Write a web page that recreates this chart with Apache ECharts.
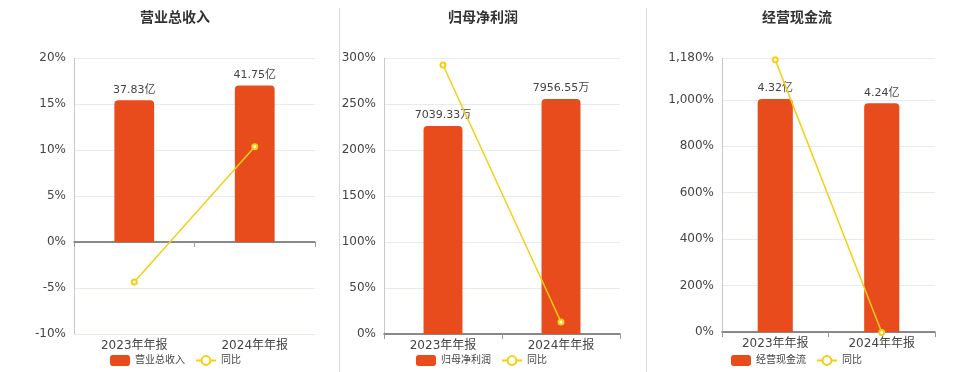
<!DOCTYPE html>
<html>
<head>
<meta charset="utf-8">
<script src="https://cdn.jsdelivr.net/npm/echarts@6/dist/echarts.min.js"></script>
<style>html,body{margin:0;padding:0;background:#fff}#c{width:960px;height:372px}</style>
</head>
<body>
<div id="c"></div>
<script>
var categories = ['2023年年报', '2024年年报'];
var titles = ['营业总收入', '归母净利润', '经营现金流'];
var units = ['亿', '万', '亿'];
var revenue = [37.83, 41.75];
var revenueYoY = [-4.35, 10.36];
var netProfit = [7039.33, 7956.55];
var netProfitYoY = [292.4, 13.03];
var cashFlow = [4.32, 4.24];
var cashFlowYoY = [1172, -1.85];
var pctMin = [-10, 0, 0];
var pctMax = [20, 300, 1180];
var pctInterval = [5, 50, 200];

var barValues = [revenue, netProfit, cashFlow];
var yoyValues = [revenueYoY, netProfitYoY, cashFlowYoY];
var barMin = [-24.55, 0, 0];
var barMax = [49.1, 9345, 5.08];

var grids = [
  {left: 74, width: 241, top: 58, bottom: 38},
  {left: 384, width: 236, top: 58, bottom: 38},
  {left: 722, width: 213, top: 58, bottom: 40}
];
var titleLeft = [140, 448, 762];
var legendCenter = [174, 480, 795];

function fmtPct(v) {
  var s = String(Math.abs(v)).replace(/\B(?=(\d{3})+(?!\d))/g, ',');
  return (v < 0 ? '-' : '') + s + '%';
}

var FONT = '"DejaVu Sans", "Noto Sans CJK SC", sans-serif';
var BAR = '#E84C1D', LINE = '#F5CF14';
var option = {
  animation: false,
  textStyle: {fontFamily: FONT},
  title: [], legend: [], grid: grids, xAxis: [], yAxis: [], series: [],
  graphic: [
    {type: 'line', shape: {x1: 339.5, y1: 8, x2: 339.5, y2: 372}, style: {stroke: '#d8d8d8', lineWidth: 1}},
    {type: 'line', shape: {x1: 646.5, y1: 8, x2: 646.5, y2: 372}, style: {stroke: '#d8d8d8', lineWidth: 1}}
  ]
};
for (var i = 0; i < 3; i++) {
  option.title.push({text: titles[i], left: titleLeft[i], top: 11, padding: 0,
    textStyle: {fontSize: 14, fontWeight: 'bold', color: '#333', fontFamily: FONT}});
  option.legend.push({
    left: legendCenter[i] - 64, top: 355, padding: 0, itemWidth: 20, itemHeight: 11, itemGap: 10,
    textStyle: {fontSize: 10, color: '#444', fontFamily: FONT},
    data: [{name: titles[i], icon: 'roundRect'}, {name: '同比' + (i ? ' '.repeat(i) : '')}],
    formatter: function (n) { return n.trim(); }
  });
  option.xAxis.push({
    type: 'category', gridIndex: i, data: categories,
    axisLine: {lineStyle: {color: '#666', width: 1.5}},
    axisTick: {show: true, length: 5, lineStyle: {color: '#999'}},
    axisLabel: {fontSize: 12, color: '#444', margin: 6, fontFamily: FONT}
  });
  option.yAxis.push({
    type: 'value', gridIndex: i, min: pctMin[i], max: pctMax[i], interval: pctInterval[i],
    axisLine: {show: true, lineStyle: {color: '#c8c8d0'}},
    axisTick: {show: false},
    axisLabel: {fontSize: 12, color: '#444', fontFamily: FONT, formatter: fmtPct},
    splitLine: {lineStyle: {color: '#E6EAF3'}}
  });
  option.yAxis.push({
    type: 'value', gridIndex: i, min: barMin[i], max: barMax[i], show: false,
    splitLine: {show: false}
  });
  (function (u) {
    option.series.push({
      name: titles[i], type: 'bar', xAxisIndex: i, yAxisIndex: 2 * i + 1,
      data: barValues[i], barWidth: '33%',
      itemStyle: {color: BAR, borderRadius: [4, 4, 0, 0]},
      label: {show: true, position: 'top', fontSize: 11, color: '#444', fontFamily: FONT,
        formatter: function (p) { return p.value.toFixed(2) + u; }}
    });
  })(units[i]);
  option.series.push({
    name: '同比' + (i ? ' '.repeat(i) : ''), type: 'line', xAxisIndex: i, yAxisIndex: 2 * i,
    data: yoyValues[i], clip: false, symbol: 'emptyCircle', symbolSize: 5,
    lineStyle: {color: LINE, width: 1.5}, itemStyle: {color: LINE, borderWidth: 1.5}, z: 5
  });
}
var chart = echarts.init(document.getElementById('c'));
chart.setOption(option);
</script>
</body>
</html>
